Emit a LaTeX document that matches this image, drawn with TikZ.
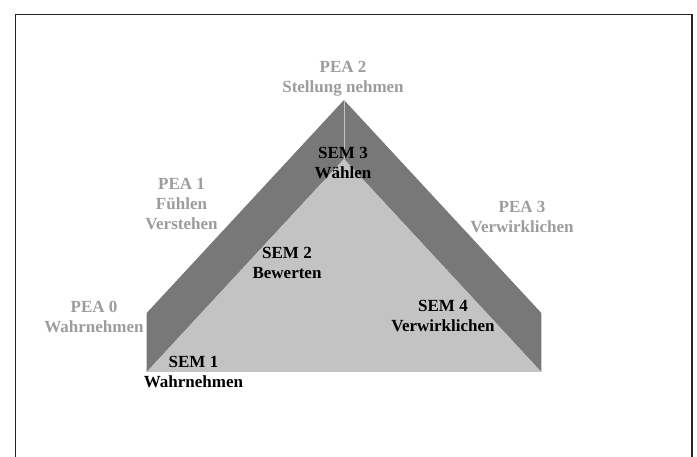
\documentclass[tikz,border=0pt]{standalone}
\usepackage{fontspec}
\setmainfont{Liberation Serif}
\definecolor{banddark}{HTML}{787878}
\definecolor{bandlight}{HTML}{C3C3C3}
\definecolor{peagray}{HTML}{9C9C9C}
\definecolor{framecol}{HTML}{222222}
\tikzset{
  lbl/.style={align=center, inner sep=0pt, font=\bfseries\fontsize{17}{20}\selectfont},
  pea/.style={lbl, text=peagray},
  sem/.style={lbl, text=black}
}
\begin{document}
\begin{tikzpicture}[x=1pt,y=1pt]
\useasboundingbox (0,0) rectangle (697,457);
% frame (open at bottom)
\coordinate (FBL) at (15.5,0);
\coordinate (FTL) at (15.5,442.5);
\coordinate (FTR) at (692,442.5);
\coordinate (FBR) at (692,0);
\draw[framecol, line width=1.5pt] (FBL) -- (FTL) -- (FTR) -- (FBR);
% triangle geometry
\coordinate (O)  at (344,357);
\coordinate (OL) at (146.7,144);
\coordinate (OR) at (541.3,144);
\coordinate (BL) at (146.7,85);
\coordinate (BR) at (541.3,85);
\coordinate (I)  at (344,298);
\fill[banddark] (OL) -- (O) -- (OR) -- (BR) -- (I) -- (BL) -- cycle;
\fill[bandlight] (BL) -- (I) -- (BR) -- cycle;
\draw[bandlight, line width=0.8pt] (O) -- (I);
% PEA labels
\node[pea] (pea2) at (343,378) {PEA 2\\Stellung nehmen};
\node[pea] (pea1) at (181.5,253) {PEA 1\\Fühlen\\Verstehen};
\node[pea] (pea0) at (94,140.5) {PEA 0\\Wahrnehmen};
\node[pea] (pea3) at (522,239.5) {PEA 3\\Verwirklichen};
% SEM labels
\node[sem] (sem3) at (343,293.5) {SEM 3\\Wählen};
\node[sem] (sem2) at (287,194) {SEM 2\\Bewerten};
\node[sem] (sem4) at (443,141) {SEM 4\\Verwirklichen};
\node[sem] (sem1) at (193.5,85) {SEM 1\\Wahrnehmen};
\end{tikzpicture}
\end{document}
